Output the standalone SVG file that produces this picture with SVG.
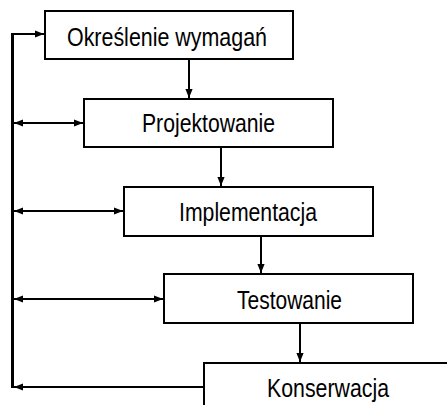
<svg xmlns="http://www.w3.org/2000/svg" width="447" height="405" viewBox="0 0 447 405">
<style>
.box{fill:#fff;stroke:#000;stroke-width:2}
.lbl{font-family:"Liberation Sans",Arial,sans-serif;font-size:26px;fill:#000;text-anchor:middle}
.c{stroke:#000;stroke-width:2;fill:none}
</style>
<defs>
<marker id="ah" viewBox="0 0 10 8" refX="10" refY="4" markerWidth="4.5" markerHeight="3.6" orient="auto-start-reverse" markerUnits="strokeWidth">
<path d="M0,0 L10,4 L0,8 z" fill="#000"/>
</marker>
</defs>
<rect width="447" height="405" fill="#fff"/>
<g id="connectors">
<path d="M12.5,388 V34" class="c" style="stroke-width:3"/>
<line x1="11" y1="34" x2="44" y2="34" class="c" marker-end="url(#ah)"/>
<line x1="14" y1="123" x2="83" y2="123" class="c" marker-start="url(#ah)" marker-end="url(#ah)"/>
<line x1="14" y1="211" x2="123" y2="211" class="c" marker-start="url(#ah)" marker-end="url(#ah)"/>
<line x1="14" y1="299" x2="163" y2="299" class="c" marker-start="url(#ah)" marker-end="url(#ah)"/>
<line x1="204" y1="387" x2="14" y2="387" class="c" marker-end="url(#ah)"/>
<line x1="189" y1="60" x2="189" y2="98" class="c" marker-end="url(#ah)"/>
<line x1="221" y1="148" x2="221" y2="186" class="c" marker-end="url(#ah)"/>
<line x1="261" y1="237" x2="261" y2="273" class="c" marker-end="url(#ah)"/>
<line x1="300" y1="324" x2="300" y2="362" class="c" marker-end="url(#ah)"/>
</g>
<g id="n1"><rect class="box" x="45" y="11" width="248" height="48"/><text class="lbl" x="167" y="45.5" textLength="200" lengthAdjust="spacingAndGlyphs">Określenie wymagań</text></g>
<g id="n2"><rect class="box" x="84" y="99" width="249" height="48"/><text class="lbl" x="208.5" y="132" textLength="133" lengthAdjust="spacingAndGlyphs">Projektowanie</text></g>
<g id="n3"><rect class="box" x="124" y="187" width="249" height="49"/><text class="lbl" x="248" y="221" textLength="138" lengthAdjust="spacingAndGlyphs">Implementacja</text></g>
<g id="n4"><rect class="box" x="164" y="274" width="249" height="49"/><text class="lbl" x="289.5" y="308.5" textLength="105" lengthAdjust="spacingAndGlyphs">Testowanie</text></g>
<g id="n5"><rect class="box" x="204" y="363" width="249" height="60"/><text class="lbl" x="328" y="397" textLength="122" lengthAdjust="spacingAndGlyphs">Konserwacja</text></g>
</svg>
